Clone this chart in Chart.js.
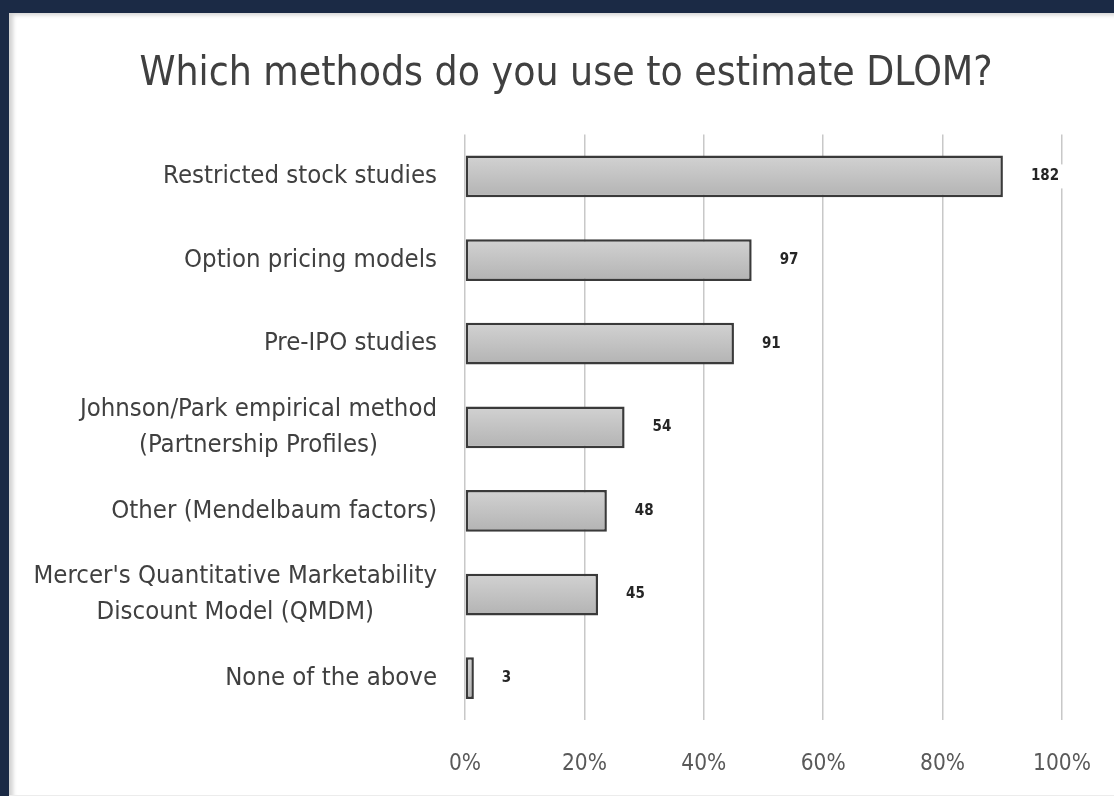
<!DOCTYPE html>
<html><head><meta charset="utf-8">
<script src="https://cdn.jsdelivr.net/npm/chart.js@4"></script>
<style>
html,body{margin:0;padding:0;background:#1b2a45;width:1114px;height:796px;overflow:hidden}
#panel{position:absolute;left:9px;top:13px;right:0;bottom:0;background:#fff;box-shadow:inset 5px 3px 4px -1px rgba(0,0,0,0.18);border-bottom:1px solid #ececec}
#wrap{position:absolute;left:0;top:0;width:1114px;height:796px}
</style></head><body>
<div id="panel"></div>
<div id="wrap"><canvas id="c" width="1114" height="796"></canvas></div>
<script>
const chartTitle = "Which methods do you use to estimate DLOM?";
const categories = [
  ["Restricted stock studies"],
  ["Option pricing models"],
  ["Pre-IPO studies"],
  ["Johnson/Park empirical method", "(Partnership Profiles)"],
  ["Other (Mendelbaum factors)"],
  ["Mercer's Quantitative Marketability", "Discount Model (QMDM)"],
  ["None of the above"]
];
const counts = [182, 97, 91, 54, 48, 45, 3];
const respondents = 202;
const xTicks = [0, 20, 40, 60, 80, 100];

const shares = counts.map(c => c / respondents * 100);
const FONT = "'Liberation Sans Narrow', 'Arial Narrow', 'DejaVu Sans Condensed', sans-serif";

const valuePlugin = {
  id: 'values',
  afterDatasetsDraw(chart) {
    const ctx = chart.ctx;
    const meta = chart.getDatasetMeta(0);
    ctx.save();
    ctx.font = "bold 15px " + FONT;
    ctx.textBaseline = 'middle';
    ctx.textAlign = 'left';
    meta.data.forEach((bar, i) => {
      const t = String(counts[i]);
      const x = bar.x + 28, y = bar.y;
      const w = ctx.measureText(t).width;
      ctx.fillStyle = '#ffffff';
      ctx.fillRect(x - 4, y - 12, w + 8, 24);
      ctx.fillStyle = '#262626';
      ctx.fillText(t, x, y);
    });
    ctx.restore();
  }
};

const catPlugin = {
  id: 'cats',
  afterDraw(chart) {
    const ctx = chart.ctx;
    const ys = chart.scales.y;
    ctx.save();
    ctx.font = "25.5px " + FONT;
    ctx.fillStyle = '#404040';
    ctx.textAlign = 'center';
    ctx.textBaseline = 'middle';
    categories.forEach((lines, i) => {
      const yc = ys.getPixelForValue(i);
      const maxW = Math.max(...lines.map(l => ctx.measureText(l).width));
      const cx = ys.right - 28 - maxW / 2;
      const lh = 36;
      lines.forEach((l, j) => ctx.fillText(l, cx, yc + (j - (lines.length - 1) / 2) * lh));
    });
    ctx.restore();
  }
};

function barFill(c) {
  const chart = c.chart;
  if (!chart.chartArea || !chart.scales.y || c.dataIndex === undefined) return '#bfbfbf';
  const ys = chart.scales.y;
  const yc = ys.getPixelForValue(c.dataIndex);
  const h = ys.getPixelForValue(1) - ys.getPixelForValue(0);
  const g = chart.ctx.createLinearGradient(0, yc - h / 4, 0, yc + h / 4);
  g.addColorStop(0, '#d2d2d2');
  g.addColorStop(1, '#b3b3b3');
  return g;
}

new Chart(document.getElementById('c'), {
  type: 'bar',
  data: {
    labels: categories.map(l => l.join(' ')),
    datasets: [{
      data: shares,
      backgroundColor: barFill,
      borderColor: '#3a3a3a',
      borderWidth: 2.5,
      borderSkipped: false,
      barPercentage: 0.5,
      categoryPercentage: 1
    }]
  },
  options: {
    indexAxis: 'y',
    responsive: false,
    animation: false,
    layout: { padding: { left: 70, right: 52, top: 0, bottom: 0 } },
    plugins: {
      legend: { display: false },
      tooltip: { enabled: false },
      title: {
        display: true,
        text: chartTitle,
        color: '#404040',
        font: { family: FONT, size: 40.5, weight: 'normal' },
        padding: { top: 50, bottom: 36 }
      }
    },
    scales: {
      x: {
        min: 0, max: 100,
        afterBuildTicks: s => { s.ticks = xTicks.map(v => ({ value: v })); },
        afterFit: s => { s.height = 76; s.paddingRight = 0; s.paddingLeft = 0; },
        grid: { color: '#c8c8c8', lineWidth: 1.5, drawTicks: false },
        border: { display: false },
        ticks: { callback: v => v + '%', color: '#595959', font: { family: FONT, size: 22.5 }, padding: 31, maxRotation: 0 }
      },
      y: {
        grid: { display: false },
        border: { display: false },
        ticks: { display: false },
        afterFit: s => { s.width = 395; }
      }
    }
  },
  plugins: [valuePlugin, catPlugin]
});
</script>
</body></html>
